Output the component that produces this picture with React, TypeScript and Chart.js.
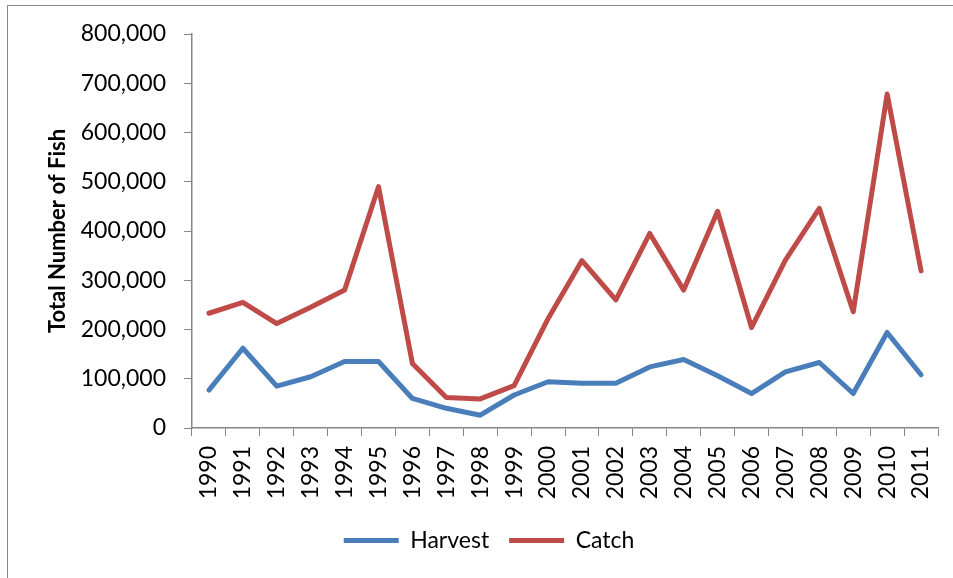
import React, { useEffect, useRef } from "react";
import { Chart, registerables } from "chart.js";

Chart.register(...registerables);

const years = [
  "1990", "1991", "1992", "1993", "1994", "1995", "1996", "1997", "1998", "1999", "2000",
  "2001", "2002", "2003", "2004", "2005", "2006", "2007", "2008", "2009", "2010", "2011",
];

const harvest = [
  77000, 162000, 85000, 104000, 135000, 135000, 60000, 40000, 26000, 67000, 94000,
  91000, 91000, 124000, 139000, 106000, 70000, 114000, 133000, 70000, 194000, 108000,
];

const catchValues = [
  233000, 255000, 212000, 245000, 280000, 490000, 131000, 62000, 59000, 86000, 222000,
  340000, 260000, 395000, 280000, 440000, 204000, 341000, 446000, 236000, 678000, 319000,
];

const yMin = 0;
const yMax = 800000;
const yStep = 100000;
const yTitle = "Total Number of Fish";
const seriesNames = ["Harvest", "Catch"];

const FONT = "Lato, 'Liberation Sans', sans-serif";

export default function App() {
  const ref = useRef<HTMLCanvasElement | null>(null);

  useEffect(() => {
    if (!ref.current) return;
    const chart = new Chart(ref.current, {
      type: "line",
      data: {
        labels: years,
        datasets: [
          {
            label: seriesNames[0],
            data: harvest,
            borderColor: "#4A7EBB",
            backgroundColor: "#4A7EBB",
            borderWidth: 5,
            pointRadius: 0,
            pointStyle: "line",
            borderCapStyle: "round",
            borderJoinStyle: "round",
            tension: 0,
          },
          {
            label: seriesNames[1],
            data: catchValues,
            borderColor: "#BE4B48",
            backgroundColor: "#BE4B48",
            borderWidth: 5,
            pointRadius: 0,
            pointStyle: "line",
            borderCapStyle: "round",
            borderJoinStyle: "round",
            tension: 0,
          },
        ],
      },
      options: {
        responsive: false,
        animation: false,
        layout: { padding: { left: 40, top: 34, right: 15, bottom: 16 } },
        plugins: {
          tooltip: { enabled: false },
          legend: {
            position: "bottom",
            labels: {
              usePointStyle: true,
              pointStyleWidth: 55,
              color: "#000",
              padding: 20,
              font: { family: FONT, size: 23 },
            },
          },
        },
        scales: {
          x: {
            type: "category",
            offset: true,
            afterFit: (s: any) => {
              s.height = 81;
              s.paddingRight = 0;
              s.paddingLeft = 0;
            },
            grid: {
              offset: true,
              drawOnChartArea: false,
              drawTicks: true,
              tickLength: 8,
              color: "#868686",
            },
            border: { color: "#868686", width: 1.5 },
            ticks: {
              minRotation: 90,
              maxRotation: 90,
              autoSkip: false,
              padding: 10,
              color: "#000",
              font: { family: FONT, size: 23 },
            },
          },
          y: {
            min: yMin,
            max: yMax,
            afterFit: (s: any) => {
              s.width = 152;
            },
            grid: {
              drawOnChartArea: false,
              drawTicks: true,
              tickLength: 8,
              color: "#868686",
            },
            border: { color: "#868686", width: 1.5 },
            ticks: {
              stepSize: yStep,
              padding: 18,
              color: "#000",
              font: { family: FONT, size: 23 },
              callback: (v: any) => Number(v).toLocaleString("en-US"),
            },
            title: {
              display: true,
              text: yTitle,
              color: "#000",
              padding: { top: 5, bottom: 0 },
              font: { family: FONT, size: 22, weight: "bold" },
            },
          },
        },
      },
    });
    return () => chart.destroy();
  }, []);

  return (
    <div
      style={{
        position: "fixed",
        left: 0,
        top: 0,
        width: 953,
        height: 578,
        overflow: "hidden",
        background: "#fff",
      }}
    >
      <div
        style={{
          position: "absolute",
          left: 7,
          top: 5,
          width: 1000,
          height: 700,
          borderLeft: "1.5px solid #8a8a8a",
          borderTop: "1.5px solid #8a8a8a",
        }}
      />
      <canvas ref={ref} width={953} height={578} style={{ position: "absolute", left: 0, top: 0 }} />
    </div>
  );
}
